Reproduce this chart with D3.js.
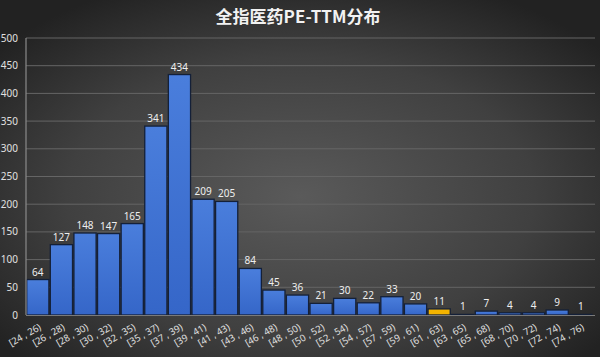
<!DOCTYPE html>
<html><head><meta charset="utf-8">
<script src="https://cdn.jsdelivr.net/npm/d3@7"></script>
<style>body{margin:0;background:#333;}svg{display:block;}</style>
</head><body>
<svg id="c" width="600" height="357"></svg>
<script>
const categories = ["[24 , 26)","[26 , 28)","[28 , 30)","[30 , 32)","[32 , 35)","[35 , 37)","[37 , 39)","[39 , 41)","[41 , 43)","[43 , 46)","[46 , 48)","[48 , 50)","[50 , 52)","[52 , 54)","[54 , 57)","[57 , 59)","[59 , 61)","[61 , 63)","[63 , 65)","[65 , 68)","[68 , 70)","[70 , 72)","[72 , 74)","[74 , 76)"];
const counts = [64,127,148,147,165,341,434,209,205,84,45,36,21,30,22,33,20,11,1,7,4,4,9,1];
const highlight = ["[61 , 63)"];
const yTicks = [0,50,100,150,200,250,300,350,400,450,500];
const title = "全指医药PE-TTM分布";

const svg = d3.select("#c");
const W = 600, H = 357;
const defs = svg.append("defs");
const rg = defs.append("radialGradient").attr("id","bg").attr("cx","50%").attr("cy","55%").attr("r","65%");
rg.append("stop").attr("offset","0%").attr("stop-color","#5a5a5a");
rg.append("stop").attr("offset","60%").attr("stop-color","#404040");
rg.append("stop").attr("offset","100%").attr("stop-color","#222");
const bg = defs.append("linearGradient").attr("id","bar").attr("x1",0).attr("x2",0).attr("y1",0).attr("y2",1);
bg.append("stop").attr("offset","0%").attr("stop-color","#4a7edc");
bg.append("stop").attr("offset","100%").attr("stop-color","#3566c8");

svg.append("rect").attr("width",W).attr("height",H).attr("fill","url(#bg)");

const x = d3.scaleBand().domain(categories).range([26, 592.6]).paddingInner(0.06).paddingOuter(0.03);
const y = d3.scaleLinear().domain([0,500]).range([315,38]);

// grid
svg.append("g").selectAll("line").data(yTicks.filter(d=>d>0)).join("line")
  .attr("x1",26).attr("x2",595).attr("y1",d=>y(d)).attr("y2",d=>y(d))
  .attr("stroke","#656565").attr("stroke-width",1);

// y axis labels
svg.append("g").selectAll("text").data(yTicks).join("text")
  .attr("x",18).attr("y",d=>y(d)).attr("dy","0.35em").attr("text-anchor","end")
  .attr("fill","#e0e0e0").attr("font-family","Noto Sans, sans-serif").attr("font-size",10)
  .text(d=>d);

// bars
svg.append("g").selectAll("rect").data(categories).join("rect")
  .attr("x",d=>x(d)).attr("width",x.bandwidth())
  .attr("y",(d,i)=>y(counts[i])).attr("height",(d,i)=>y(0)-y(counts[i]))
  .attr("fill",d=>highlight.includes(d)?"#f4b400":"url(#bar)")
  .attr("stroke","#142038").attr("stroke-width",1.3);

// axes lines
svg.append("line").attr("x1",26).attr("x2",26).attr("y1",38).attr("y2",315).attr("stroke","#8a8a8a").attr("stroke-width",1.2);
svg.append("line").attr("x1",26).attr("x2",595).attr("y1",315.5).attr("y2",315.5).attr("stroke","#7a7a7a").attr("stroke-width",1.2);

// value labels
svg.append("g").selectAll("text").data(categories).join("text")
  .attr("x",d=>x(d)+x.bandwidth()/2).attr("y",(d,i)=>y(counts[i])-4)
  .attr("text-anchor","middle").attr("fill","#eeeeee")
  .attr("font-family","Noto Sans, sans-serif").attr("font-size",10)
  .text((d,i)=>counts[i]);

// x labels
svg.append("g").selectAll("text").data(categories).join("text")
  .attr("transform",d=>`translate(${x(d)+x.bandwidth()/2+4},${329}) rotate(-30)`)
  .attr("text-anchor","end").attr("fill","#e0e0e0")
  .attr("font-family","Noto Sans, sans-serif").attr("font-size",9.5)
  .text(d=>d);

// title
svg.append("text").attr("x",298).attr("y",23).attr("text-anchor","middle")
  .attr("fill","#f2f2f2").attr("font-family","Noto Sans CJK SC, sans-serif").attr("font-weight","bold")
  .attr("font-size",17).text(title);
</script>
</body></html>
